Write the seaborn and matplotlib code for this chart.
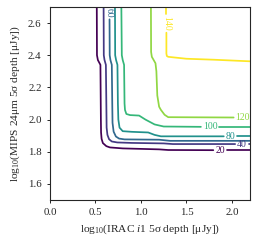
import numpy as np
import pandas as pd
import seaborn as sns
from matplotlib import pyplot as plt

# style
sns.set_style("ticks")
plt.rcParams["font.family"] = ["Liberation Serif", "DejaVu Serif"]
plt.rcParams["mathtext.fontset"] = "custom"
plt.rcParams["mathtext.rm"] = "Liberation Serif"
plt.rcParams["mathtext.it"] = "Liberation Serif:italic"

# contour levels and paths (log10 depths)
levels = [20, 40, 60, 80, 100, 120, 140]

x_20 = [0.515, 0.517, 0.527, 0.555, 0.56, 0.562, 0.568, 0.582, 0.62, 0.66, 0.80, 1.20, 1.30, 2.20]
y_20 = [2.70, 2.40, 2.37, 2.34, 2.00, 1.92, 1.88, 1.854, 1.835, 1.827, 1.821, 1.815, 1.811, 1.81]

x_40 = [0.59, 0.592, 0.60, 0.615, 0.62, 0.623, 0.632, 0.65, 0.68, 0.74, 0.90, 1.25, 1.35, 2.20]
y_40 = [2.70, 2.40, 2.37, 2.34, 2.10, 1.95, 1.905, 1.878, 1.864, 1.858, 1.855, 1.852, 1.848, 1.848]

x_60 = [0.655, 0.657, 0.665, 0.68, 0.685, 0.688, 0.70, 0.725, 0.76, 0.82, 1.20, 1.32, 2.20]
y_60 = [2.70, 2.40, 2.37, 2.34, 2.10, 1.98, 1.925, 1.895, 1.882, 1.877, 1.875, 1.868, 1.868]

x_80 = [0.715, 0.717, 0.727, 0.742, 0.747, 0.752, 0.765, 0.80, 0.90, 1.08, 1.15, 1.22, 2.20]
y_80 = [2.70, 2.40, 2.37, 2.34, 2.10, 2.00, 1.95, 1.928, 1.924, 1.92, 1.905, 1.896, 1.896]

x_100 = [0.785, 0.79, 0.80, 0.815, 0.82, 0.825, 0.84, 0.88, 0.98, 1.05, 1.15, 1.25, 2.20]
y_100 = [2.70, 2.40, 2.37, 2.34, 2.10, 2.06, 2.035, 2.028, 2.025, 2.00, 1.97, 1.957, 1.955]

x_120 = [1.11, 1.112, 1.12, 1.16, 1.17, 1.18, 1.20, 1.22, 1.26, 1.30, 2.20]
y_120 = [2.70, 2.42, 2.39, 2.35, 2.30, 2.15, 2.08, 2.06, 2.03, 2.015, 2.013]

x_140 = [1.28, 1.28, 1.285, 1.30, 1.50, 1.80, 2.20]
y_140 = [2.70, 2.41, 2.395, 2.39, 2.378, 2.372, 2.362]

paths_x = [x_20, x_40, x_60, x_80, x_100, x_120, x_140]
paths_y = [y_20, y_40, y_60, y_80, y_100, y_120, y_140]

# inline label positions and rotation
label_x = [1.87, 2.11, 0.655, 1.985, 1.76, 2.12, 1.28]
label_y = [1.81, 1.848, 2.665, 1.896, 1.955, 2.013, 2.597]
label_rot = [0, 0, 270, 0, 0, 0, 270]

# build long table, leaving a gap where the label sits
rows = []
for lev, xs, ys, lx, ly, rot in zip(levels, paths_x, paths_y, label_x, label_y, label_rot):
    xs = np.array(xs)
    ys = np.array(ys)
    n = len(str(lev))
    if rot == 0:
        hw = (n * 4.8 + 4) / 2 / 91
        a = xs < lx - hw
        b = xs > lx + hw
        seg_a = list(zip(xs[a], ys[a])) + [(lx - hw, ly)]
        seg_b = [(lx + hw, ly)] + list(zip(xs[b], ys[b]))
    else:
        hh = (n * 4.8 + 4) / 2 / 161
        a = ys > ly + hh
        b = ys < ly - hh
        seg_a = list(zip(xs[a], ys[a])) + [(lx, ly + hh)]
        seg_b = [(lx, ly - hh)] + list(zip(xs[b], ys[b]))
    for seg_id, seg in enumerate([seg_a, seg_b]):
        if len(seg) < 2:
            continue
        for px, py in seg:
            rows.append({"level": lev, "seg": seg_id, "x": px, "y": py})

df = pd.DataFrame(rows)

fig = plt.figure(figsize=(2.56, 2.47), dpi=100)
ax = fig.add_axes([0.195, 0.19, 0.782, 0.782])

sns.lineplot(data=df, x="x", y="y", hue="level", units="seg", estimator=None,
             sort=False, palette="viridis", legend=False, linewidth=1.25, ax=ax)

cmap = plt.get_cmap("viridis")
for lev, lx, ly, rot in zip(levels, label_x, label_y, label_rot):
    ax.text(lx, ly, str(lev), color=cmap((lev - 20) / 120), fontsize=7,
            ha="center", va="center", rotation=rot, rotation_mode="anchor")

ax.set_xlim(0, 2.2)
ax.set_ylim(1.5, 2.7)
ax.set_xticks([0.0, 0.5, 1.0, 1.5, 2.0])
ax.set_yticks([1.6, 1.8, 2.0, 2.2, 2.4, 2.6])
ax.tick_params(labelsize=7.8, length=2.5, width=0.7, colors="0.15")
for s in ax.spines.values():
    s.set_linewidth(0.8)
ax.set_xlabel(r"log$_{10}$(IRAC $i$1 5σ depth [μJy])", fontsize=8.2)
ax.set_ylabel(r"log$_{10}$(MIPS 24μm 5σ depth [μJy])", fontsize=8.2)

fig.savefig("out.png", dpi=100)
